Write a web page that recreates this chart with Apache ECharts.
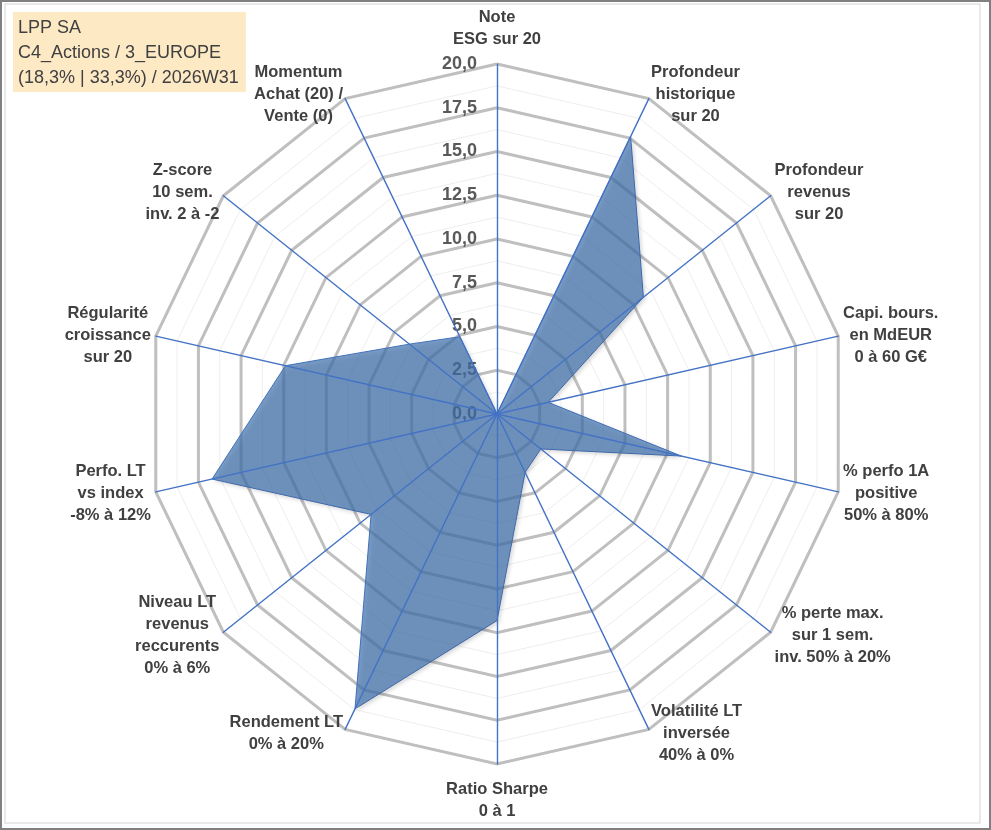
<!DOCTYPE html>
<html>
<head>
<meta charset="utf-8">
<script src="https://cdn.jsdelivr.net/npm/echarts@6/dist/echarts.min.js"></script>
<style>
	html, body { margin:0; padding:0; background:#fff; }
	#main { width:991px; height:830px; }
</style>
</head>
<body>
<div id="main"></div>
<script>
// axes, clockwise from the top
var indicators = [
	"Note\nESG sur 20",
	"Profondeur\nhistorique\nsur 20",
	"Profondeur\nrevenus\nsur 20",
	"Capi. bours.\nen MdEUR\n0 à 60 G€",
	"% perfo 1A\npositive\n50% à 80%",
	"% perte max.\nsur 1 sem.\ninv. 50% à 20%",
	"Volatilité LT\ninversée\n40% à 0%",
	"Ratio Sharpe\n0 à 1",
	"Rendement LT\n0% à 20%",
	"Niveau LT\nrevenus\nreccurents\n0% à 6%",
	"Perfo. LT\nvs index\n-8% à 12%",
	"Régularité\ncroissance\nsur 20",
	"Z-score\n10 sem.\ninv. 2 à -2",
	"Momentum\nAchat (20) /\nVente (0)"
];
var scores = [0, 17.6, 10.7, 3.0, 10.8, 3.2, 3.7, 11.8, 18.7, 9.2, 16.7, 12.4, 6.4, 4.9];
var axisMin = 0;
var axisMax = 20;
var tickStep = 2.5;
var titleLines = ["LPP SA", "C4_Actions / 3_EUROPE", "(18,3% | 33,3%) / 2026W31"];

var cx = 497, cy = 414, rad = 350;

// echarts places radar axes counter-clockwise, so keep the first and reverse the rest
function ccw(arr){
	return [arr[0]].concat(arr.slice(1).reverse());
}
function extend(a, b){
	var o = {};
	for(var k in b) o[k] = b[k];
	for(var k2 in a) o[k2] = a[k2];
	return o;
}
var indi = ccw(indicators).map(function(n){
	return {name:n, min:axisMin, max:axisMax};
});
var vals = ccw(scores);

var lblFont = {fontFamily:'"Liberation Sans", Arial, sans-serif', fontSize:16.5, fontWeight:'bold', color:'#404040', lineHeight:22};

function nameFmt(value){
	var lines = value.split('\n');
	var out = [];
	for(var i = 0; i < lines.length; i++){
		out.push('{c|' + lines[i] + '}');
	}
	// a bit more air above the top label and below the bottom one
	if(value == indicators[0]) out.push('{s| }');
	if(value == indicators[7]) out.unshift('{s| }');
	return out.join('\n');
}

var myChart = echarts.init(document.getElementById('main'));
var option = {
	backgroundColor:'#fff',
	animation:false,
	title:{
		text:titleLines.join('\n'),
		left:13, top:12,
		backgroundColor:'#fde9c4',
		padding:[4,7,1,5],
		textStyle:{fontFamily:'"Liberation Sans", Arial, sans-serif', fontSize:18, fontWeight:'normal', color:'#404040', lineHeight:25}
	},
	graphic:[
		{type:'rect', shape:{x:1, y:1, width:989, height:828}, style:{fill:null, stroke:'#808080', lineWidth:2}, silent:true},
		{type:'rect', shape:{x:5, y:4, width:975, height:819}, style:{fill:null, stroke:'#e2e2e2', lineWidth:1.5}, silent:true}
	],
	grid:{left:cx, top:cy-rad, width:1, height:rad, show:false},
	xAxis:{type:'value', show:false},
	yAxis:{
		type:'value', min:axisMin, max:axisMax, interval:tickStep,
		axisLine:{show:false}, axisTick:{show:false}, splitLine:{show:false},
		axisLabel:{
			margin:20,
			padding:[4,0,0,0],
			fontFamily:'"Liberation Sans", Arial, sans-serif', fontSize:18, fontWeight:'bold', color:'#595959',
			formatter:function(v){ return v.toFixed(1).replace('.', ','); }
		}
	},
	radar:[
		{	// minor rings
			center:[cx,cy], radius:rad, startAngle:90, shape:'polygon', splitNumber:16,
			indicator:indi,
			axisName:{show:false},
			axisLine:{show:false},
			splitArea:{show:false},
			splitLine:{lineStyle:{color:'#eeeeee', width:1}}
		},
		{	// major rings and names
			center:[cx,cy], radius:rad, startAngle:90, shape:'polygon', splitNumber:8,
			indicator:indi,
			nameGap:5,
			axisName:{
				formatter:nameFmt,
				rich:{
					c:extend({align:'center'}, lblFont),
					s:{fontSize:2, lineHeight:9}
				}
			},
			axisLine:{show:false},
			splitArea:{show:false},
			splitLine:{lineStyle:{color:'#bfbfbf', width:3}}
		},
		{	// blue spokes drawn over the area
			center:[cx,cy], radius:rad, startAngle:90, shape:'polygon', splitNumber:8,
			indicator:indi, z:10,
			axisName:{show:false},
			splitArea:{show:false},
			splitLine:{show:false},
			axisLine:{lineStyle:{color:'#4472c4', width:1.4}}
		}
	],
	series:[{
		type:'radar',
		radarIndex:1,
		z:3,
		symbol:'none',
		lineStyle:{color:'#4472c4', width:1},
		areaStyle:{color:'#4174b0', opacity:0.7, shadowColor:'rgba(0,0,0,0.25)', shadowBlur:4, shadowOffsetX:2, shadowOffsetY:2},
		data:[{value:vals, name:'LPP SA'}]
	}]
};
myChart.setOption(option, true);
</script>
</body>
</html>
